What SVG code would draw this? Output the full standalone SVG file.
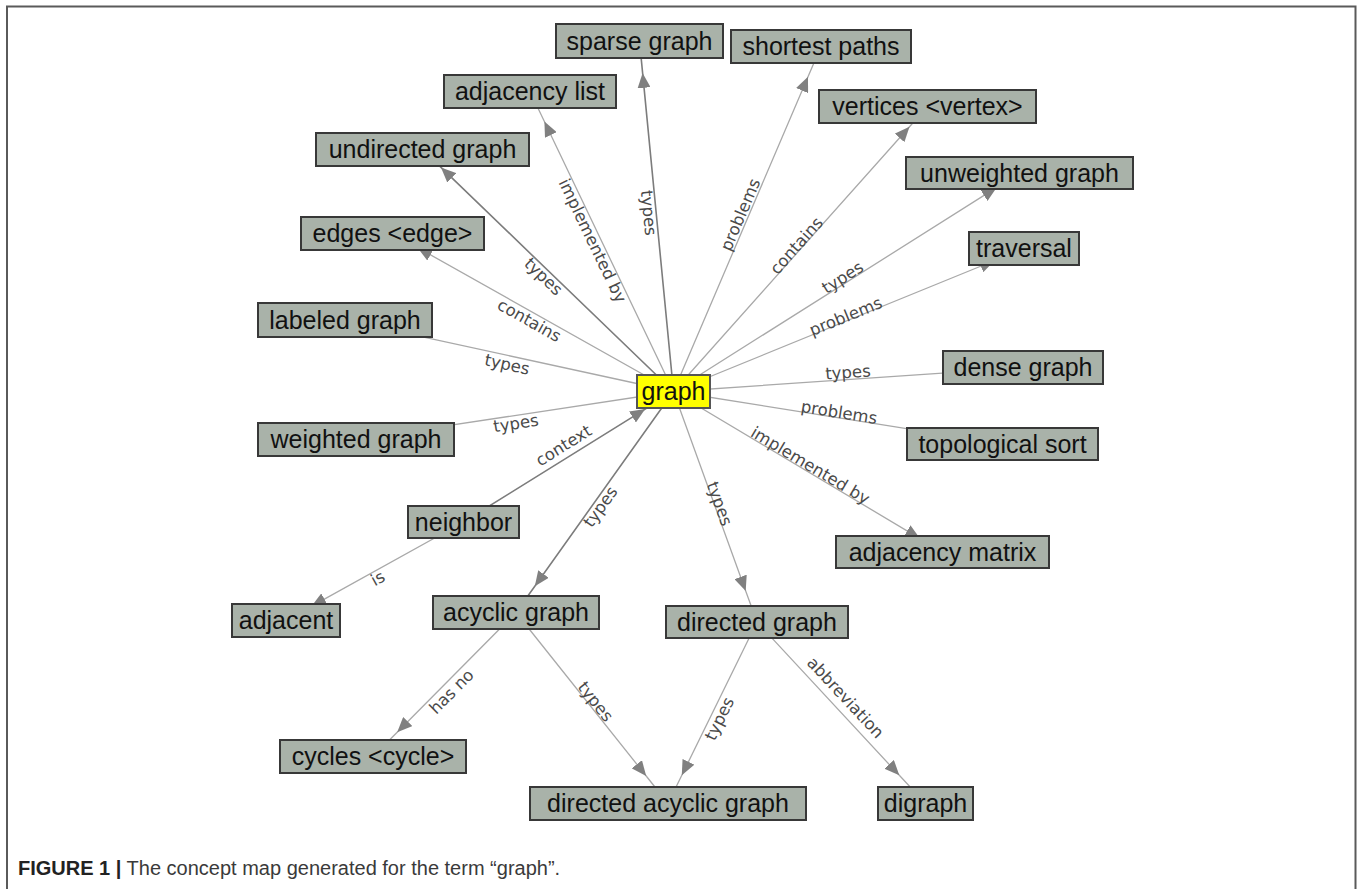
<svg xmlns="http://www.w3.org/2000/svg" width="1357" height="889" viewBox="0 0 1357 889">
<style>
.frame{fill:none;stroke:#5a5a5a;stroke-width:2}
.e{fill:none;stroke:#a9a9a9;stroke-width:1.3;marker-mid:url(#arr)}
.e.d{stroke:#7c7c7c;stroke-width:1.6}
.lbl{font-family:"DejaVu Sans",sans-serif;font-size:16.5px;fill:#4a4a4a;text-anchor:middle}
.box{fill:#a9b2a9;stroke:#383838;stroke-width:2}
.main{fill:#ffff00;stroke:#555;stroke-width:2}
.nt{font-family:"Liberation Sans",Arial,sans-serif;font-size:25px;fill:#111;text-anchor:middle}
.cap{font-family:"Liberation Sans",Arial,sans-serif;font-size:20px;fill:#3a3a3a}
</style>
<defs>
<marker id="arr" markerWidth="15" markerHeight="13" refX="15" refY="6.5" orient="auto" markerUnits="userSpaceOnUse">
<path d="M0,0 L15,6.5 L0,13 z" fill="#808080"/>
</marker>
</defs>
<rect x="0" y="0" width="1357" height="889" fill="#fff"/>
<path class="frame" d="M7,889 V6.5 H1355.5 V889"/>

<g id="connectors">
<path class="e d" d="M673.5,391.5 L642.6,72.9 L639.5,41"/>
<path class="e" d="M673.5,391.5 L544.4,121.5 L530,91.5"/>
<path class="e d" d="M673.5,391.5 L441,167.4 L422.5,149.5"/>
<path class="e" d="M673.5,391.5 L417.4,247.5 L392.5,233.5"/>
<path class="e" d="M673.5,391.5 L381.1,327.9 L345,320"/>
<path class="e" d="M673.5,391.5 L404.6,432.2 L356,439.5"/>
<path class="e" d="M673.5,391.5 L982.9,370.3 L1023,367.5"/>
<path class="e" d="M673.5,391.5 L966.3,438.2 L1002.5,444"/>
<path class="e" d="M673.5,391.5 L994.7,260.5 L1024,248.5"/>
<path class="e" d="M673.5,391.5 L996.7,187.4 L1019.5,173"/>
<path class="e" d="M673.5,391.5 L909.5,126.7 L927.5,106.5"/>
<path class="e" d="M673.5,391.5 L808,76.8 L821,46.5"/>
<path class="e" d="M673.5,391.5 L920,538.6 L942.5,552"/>
<path class="e" d="M673.5,391.5 L745.7,591 L757,622"/>
<path class="e d" d="M673.5,391.5 L534.8,586.2 L516,612.5"/>
<path class="e d" d="M463.5,522 L645.2,409.1 L673.5,391.5"/>
<path class="e" d="M463.5,522 L311.3,606.4 L286,620.5"/>
<path class="e" d="M516,612.5 L397.2,732.2 L373,756.5"/>
<path class="e" d="M516,612.5 L646.2,776 L668,803.5"/>
<path class="e" d="M757,622 L681.8,775.3 L668,803.5"/>
<path class="e" d="M757,622 L899.3,775.3 L925.5,803.5"/>

<text class="lbl" transform="translate(648,213) rotate(84.5)" y="5">types</text>
<text class="lbl" transform="translate(592,241) rotate(64.4)" y="5">implemented by</text>
<text class="lbl" transform="translate(543,277) rotate(44)" y="5">types</text>
<text class="lbl" transform="translate(529,321) rotate(29.4)" y="5">contains</text>
<text class="lbl" transform="translate(507,365) rotate(12.3)" y="5">types</text>
<text class="lbl" transform="translate(516,424) rotate(-8.6)" y="5">types</text>
<text class="lbl" transform="translate(564,446) rotate(-31.9)" y="5">context</text>
<text class="lbl" transform="translate(378,579) rotate(-29)" y="5">is</text>
<text class="lbl" transform="translate(601,507) rotate(-54.5)" y="5">types</text>
<text class="lbl" transform="translate(719,504) rotate(70.1)" y="5">types</text>
<text class="lbl" transform="translate(810,466) rotate(30.8)" y="5">implemented by</text>
<text class="lbl" transform="translate(839,413) rotate(9.1)" y="5">problems</text>
<text class="lbl" transform="translate(848,373) rotate(-3.9)" y="5">types</text>
<text class="lbl" transform="translate(846,317) rotate(-22.2)" y="5">problems</text>
<text class="lbl" transform="translate(843,278) rotate(-32.3)" y="5">types</text>
<text class="lbl" transform="translate(797,246) rotate(-48.3)" y="5">contains</text>
<text class="lbl" transform="translate(741,215) rotate(-66.8)" y="5">problems</text>
<text class="lbl" transform="translate(452,692) rotate(-45.2)" y="5">has no</text>
<text class="lbl" transform="translate(595,702) rotate(51.5)" y="5">types</text>
<text class="lbl" transform="translate(720,719) rotate(-64)" y="5">types</text>
<text class="lbl" transform="translate(845,698) rotate(47.1)" y="5">abbreviation</text>
</g>

<g id="n-sparse"><rect class="box" x="556" y="24" width="167" height="34"/><text class="nt" x="639.5" y="49.5">sparse graph</text></g>
<g id="n-shortest"><rect class="box" x="731" y="30" width="180" height="33"/><text class="nt" x="821" y="55">shortest paths</text></g>
<g id="n-adjlist"><rect class="box" x="444" y="75" width="172" height="33"/><text class="nt" x="530" y="100">adjacency list</text></g>
<g id="n-vertices"><rect class="box" x="819" y="90" width="217" height="33"/><text class="nt" x="927.5" y="115">vertices &lt;vertex&gt;</text></g>
<g id="n-undirected"><rect class="box" x="316" y="133" width="213" height="33"/><text class="nt" x="422.5" y="158">undirected graph</text></g>
<g id="n-unweighted"><rect class="box" x="906" y="157" width="227" height="32"/><text class="nt" x="1019.5" y="181.5">unweighted graph</text></g>
<g id="n-edges"><rect class="box" x="301" y="217" width="183" height="33"/><text class="nt" x="392.5" y="242">edges &lt;edge&gt;</text></g>
<g id="n-traversal"><rect class="box" x="969" y="232" width="110" height="33"/><text class="nt" x="1024" y="257">traversal</text></g>
<g id="n-labeled"><rect class="box" x="258" y="303" width="174" height="34"/><text class="nt" x="345" y="328.5">labeled graph</text></g>
<g id="n-dense"><rect class="box" x="943" y="351" width="160" height="33"/><text class="nt" x="1023" y="376">dense graph</text></g>
<g id="n-graph"><rect class="main" x="637" y="375" width="73" height="33"/><text class="nt" x="673.5" y="400">graph</text></g>
<g id="n-weighted"><rect class="box" x="258" y="423" width="196" height="33"/><text class="nt" x="356" y="448">weighted graph</text></g>
<g id="n-topo"><rect class="box" x="907" y="428" width="191" height="32"/><text class="nt" x="1002.5" y="452.5">topological sort</text></g>
<g id="n-neighbor"><rect class="box" x="408" y="506" width="111" height="32"/><text class="nt" x="463.5" y="530.5">neighbor</text></g>
<g id="n-adjmatrix"><rect class="box" x="836" y="536" width="213" height="32"/><text class="nt" x="942.5" y="560.5">adjacency matrix</text></g>
<g id="n-adjacent"><rect class="box" x="232" y="604" width="108" height="33"/><text class="nt" x="286" y="629">adjacent</text></g>
<g id="n-acyclic"><rect class="box" x="433" y="596" width="166" height="33"/><text class="nt" x="516" y="621">acyclic graph</text></g>
<g id="n-directed"><rect class="box" x="666" y="606" width="182" height="32"/><text class="nt" x="757" y="630.5">directed graph</text></g>
<g id="n-cycles"><rect class="box" x="280" y="740" width="186" height="33"/><text class="nt" x="373" y="765">cycles &lt;cycle&gt;</text></g>
<g id="n-dag"><rect class="box" x="530" y="787" width="276" height="33"/><text class="nt" x="668" y="812">directed acyclic graph</text></g>
<g id="n-digraph"><rect class="box" x="878" y="787" width="95" height="33"/><text class="nt" x="925.5" y="812">digraph</text></g>

<text class="cap" x="18" y="875"><tspan font-weight="bold" fill="#222">FIGURE 1 |</tspan> The concept map generated for the term “graph”.</text>
</svg>
